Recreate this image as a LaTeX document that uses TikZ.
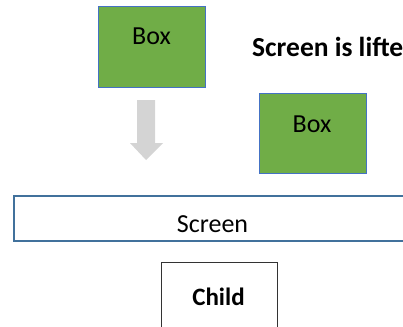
\documentclass[tikz,border=0pt]{standalone}
\usepackage{fontspec}
\setmainfont{Carlito}
\begin{document}
\begin{tikzpicture}[x=1pt,y=-1pt,
  greenbox/.style={draw=boxblue,line width=1.4pt,fill=boxgreen,minimum width=107pt,minimum height=81pt,inner sep=0pt,anchor=north west},
  lbl/.style={anchor=base,inner sep=0pt,font=\fontsize{26}{30}\selectfont},
  blbl/.style={anchor=base west,inner sep=0pt,font=\fontsize{27.5}{32}\selectfont\bfseries}]
\definecolor{boxgreen}{HTML}{70AD47}
\definecolor{boxblue}{HTML}{4472C4}
\definecolor{scrblue}{HTML}{41719C}
\definecolor{arrgray}{HTML}{D4D4D4}
\useasboundingbox (0,0) rectangle (403,326);
\clip (0,0) rectangle (403,326);
% top box
\node[greenbox] (box1) at (98,6) {};
\node[lbl] (box1t) at (151.5,45) {Box};
% lifted label (cut at the right edge in the reference)
\node[blbl] (lifted) at (252,57) {Screen is lifte};
% second box
\node[greenbox,minimum width=107pt,minimum height=80pt] (box2) at (259,93) {};
\node[lbl] (box2t) at (312,132) {Box};
% gray arrow
\fill[arrgray] (137,100) -- (155,100) -- (155,143) -- (163,143) -- (146,160) -- (130,143) -- (137,143) -- cycle;
% screen
\node[draw=scrblue,line width=1.8pt,minimum width=420pt,minimum height=45pt,inner sep=0pt,anchor=north west] (screen) at (13,195) {};
\node[lbl] (screent) at (212.5,232) {Screen};
% child
\node[draw=black!80,line width=1.3pt,minimum width=116pt,minimum height=90pt,inner sep=0pt,anchor=north west] (child) at (161,262) {};
\node[lbl,font=\fontsize{25}{30}\selectfont\bfseries] (childt) at (218.5,305) {Child};
\end{tikzpicture}
\end{document}
